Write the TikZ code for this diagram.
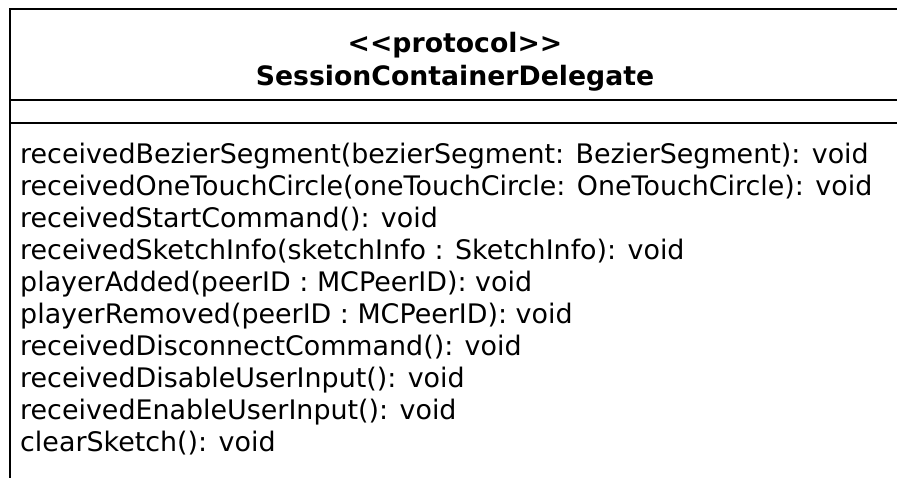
\documentclass[tikz,border=0pt]{standalone}
\usepackage{fontspec}
\setmainfont{DejaVu Sans}[Ligatures=TeXOff]
\begin{document}
\begin{tikzpicture}[x=1pt,y=-1pt,
  frame/.style={line width=2pt,draw=black},
  member/.style={anchor=base west,inner sep=0pt,font=\fontsize{26.9}{30}\selectfont},
  titletext/.style={anchor=base,inner sep=0pt,font=\bfseries\fontsize{26.7}{30}\selectfont}]
\useasboundingbox (0,0) rectangle (897,477);
\clip (0,0) rectangle (897,477);
% class box (continues past the right and lower edges)
\draw[frame] (9.5,490) -- (9.5,8.5) -- (905,8.5);
\draw[frame] (9.5,100) -- (905,100);
\draw[frame] (9.5,123) -- (905,123);
% header
\node[titletext] (stereo) at (455,52) {<{}<protocol>{}>};
\node[titletext] (cname) at (455,85) {SessionContainerDelegate};
% operations
\foreach \t [count=\i] in {
  {receivedBezierSegment(bezierSegment: BezierSegment): void},
  {receivedOneTouchCircle(oneTouchCircle: OneTouchCircle): void},
  {receivedStartCommand(): void},
  {receivedSketchInfo(sketchInfo : SketchInfo): void},
  {playerAdded(peerID : MCPeerID): void},
  {playerRemoved(peerID : MCPeerID): void},
  {receivedDisconnectCommand(): void},
  {receivedDisableUserInput(): void},
  {receivedEnableUserInput(): void},
  {clearSketch(): void}}
  \node[member] (op\i) at (20,{163+(\i-1)*32}) {\t};
\end{tikzpicture}
\end{document}
